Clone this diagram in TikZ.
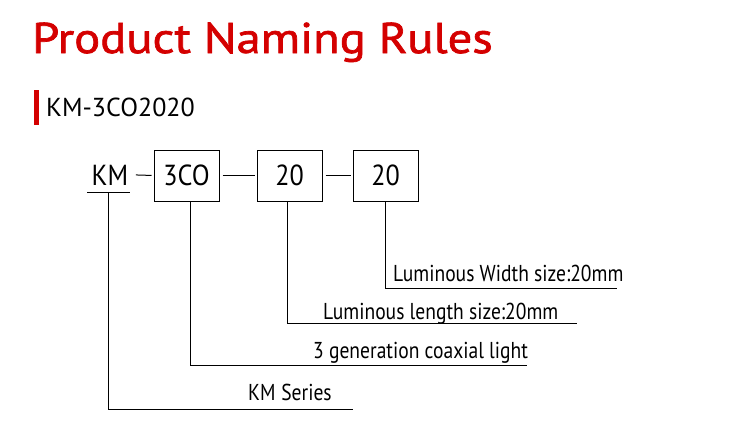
\documentclass[tikz,border=0pt]{standalone}
\usepackage{fontspec}
\setmainfont{PT Sans}
\newfontfamily\titlefont[FakeStretch=1.13,FakeBold=1.6]{PT Sans}
\newfontfamily\lblfont[FakeStretch=0.85]{PT Sans}
\newfontfamily\codefont[FakeStretch=0.9]{PT Sans}
\definecolor{brand}{RGB}{212,0,0}
\begin{document}
\begin{tikzpicture}[x=1pt,y=-1pt,
  lbl/.style={font=\lblfont\fontsize{23}{23}\selectfont, inner sep=0pt, anchor=base west},
  codebox/.style={draw, line width=1pt, minimum width=65pt, minimum height=51pt, inner sep=0pt, font=\codefont\fontsize{29}{29}\selectfont},
  link/.style={line width=1pt},
  bus/.style={line width=1pt, shorten <=3pt, shorten >=2pt}]
\useasboundingbox (0,0) rectangle (743,436);
\node[anchor=base west, inner sep=0pt, text=brand, font=\titlefont\fontsize{43}{43}\selectfont] (title) at (32,53) {Product Naming Rules};
\node[fill=brand, minimum width=5pt, minimum height=35pt, inner sep=0pt, anchor=north west] (bar) at (34,90) {};
\node[anchor=base west, inner sep=0pt, font=\fontsize{26}{26}\selectfont] (sub) at (46,116) {KM-3CO2020};
\node[anchor=base, inner xsep=4.5pt, inner ysep=7pt, font=\codefont\fontsize{29}{29}\selectfont] (km) at (110,185) {KM};
\node[codebox] (a) at (186.5,175.5) {3CO};
\node[codebox] (b) at (289.5,175.5) {20};
\node[codebox] (c) at (385.5,175.5) {20};
\coordinate (ul1) at (87,192);
\coordinate (ul2) at (130,192);
\draw[link] (ul1) -- (ul2);
\draw[bus] (km.east) -- (a.west);
\draw[bus] (a.east) -- (b.west);
\draw[bus] (b.east) -- (c.west);
\node[lbl] (tw) at (393,281) {Luminous Width size:20mm};
\node[lbl] (tl) at (323,319) {Luminous length size:20mm};
\node[lbl] (tc) at (313,358) {3 generation coaxial light};
\node[lbl] (ts) at (248,400) {KM\hspace{0.25em}Series};
\coordinate (ew) at (617,288);
\coordinate (el) at (577,323);
\coordinate (ec) at (527,365);
\coordinate (es) at (353,409);
\coordinate (kmd) at (108,192);
\draw[link] (c.south) |- (ew);
\draw[link] ([xshift=-2.5pt]b.south) |- (el);
\draw[link] ([xshift=3.5pt]a.south) |- (ec);
\draw[link] (kmd) |- (es);
\end{tikzpicture}
\end{document}
